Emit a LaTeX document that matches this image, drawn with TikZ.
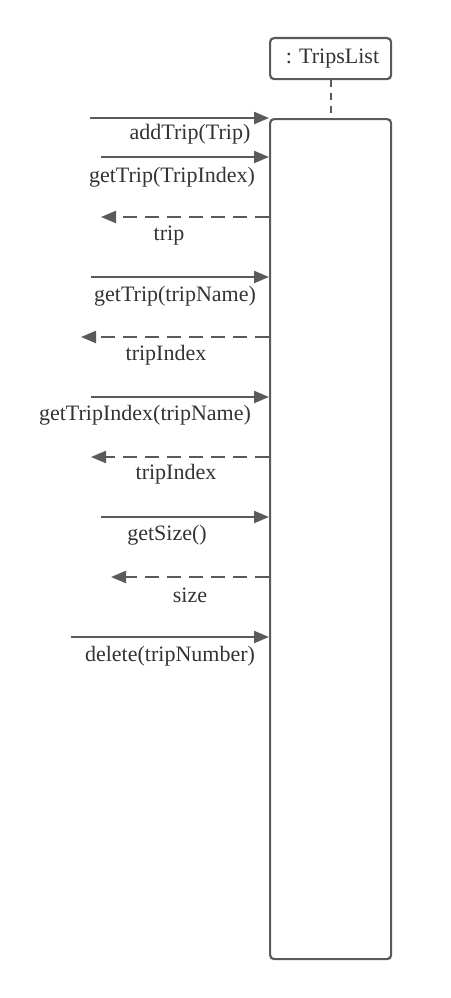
\documentclass[tikz,border=0pt]{standalone}
\usepackage{fontspec}
\setmainfont{Liberation Serif}
\usetikzlibrary{arrows.meta}
\definecolor{ln}{HTML}{5A5A5A}
\definecolor{tx}{HTML}{333333}
\begin{document}
\begin{tikzpicture}[x=1pt,y=-1pt,
  box/.style={draw=ln,line width=2.2pt,rounded corners=4pt,fill=white},
  call/.style={draw=ln,line width=2.2pt,-{Triangle[length=15pt,width=12pt]}},
  ret/.style={call,dash pattern=on 14pt off 8pt},
  lbl/.style={text=tx,font=\fontsize{22}{26}\selectfont,inner sep=0pt},
  life/.style={draw=ln,line width=2.2pt,dash pattern=on 7pt off 6pt}]
\useasboundingbox (0,0) rectangle (450,998);
\node[box,minimum width=121pt,minimum height=41pt,anchor=north west,lbl,draw=ln,inner sep=0pt] (obj) at (269,37) {\,: TripsList};
\node[box,minimum width=121pt,minimum height=840pt,anchor=north west] (act) at (269,118) {};
\draw[life] (obj.south) -- (obj.south |- act.north);
% calls
\coordinate (c1) at (90,118);
\coordinate (c2) at (101,157);
\coordinate (r3) at (101,217);
\coordinate (c4) at (91,277);
\coordinate (r5) at (81,337);
\coordinate (c6) at (91,397);
\coordinate (r7) at (91,457);
\coordinate (c8) at (101,517);
\coordinate (r9) at (111,577);
\coordinate (c10) at (71,637);
\draw[call] (c1) -- (c1 -| act.west);
\draw[call] (c2) -- (c2 -| act.west);
\draw[ret] (r3 -| act.west) -- (r3);
\draw[call] (c4) -- (c4 -| act.west);
\draw[ret] (r5 -| act.west) -- (r5);
\draw[call] (c6) -- (c6 -| act.west);
\draw[ret] (r7 -| act.west) -- (r7);
\draw[call] (c8) -- (c8 -| act.west);
\draw[ret] (r9 -| act.west) -- (r9);
\draw[call] (c10) -- (c10 -| act.west);
% labels
\node[lbl] (l1) at (190,134) {addTrip(Trip)};
\node[lbl] (l2) at (172,177) {getTrip(TripIndex)};
\node[lbl] (l3) at (169,236) {trip};
\node[lbl] (l4) at (175,296) {getTrip(tripName)};
\node[lbl] (l5) at (166,355) {tripIndex};
\node[lbl] (l6) at (145,415) {getTripIndex(tripName)};
\node[lbl] (l7) at (176,474) {tripIndex};
\node[lbl] (l8) at (167,535) {getSize()};
\node[lbl] (l9) at (190,595) {size};
\node[lbl] (l10) at (170,656) {delete(tripNumber)};
\end{tikzpicture}
\end{document}
